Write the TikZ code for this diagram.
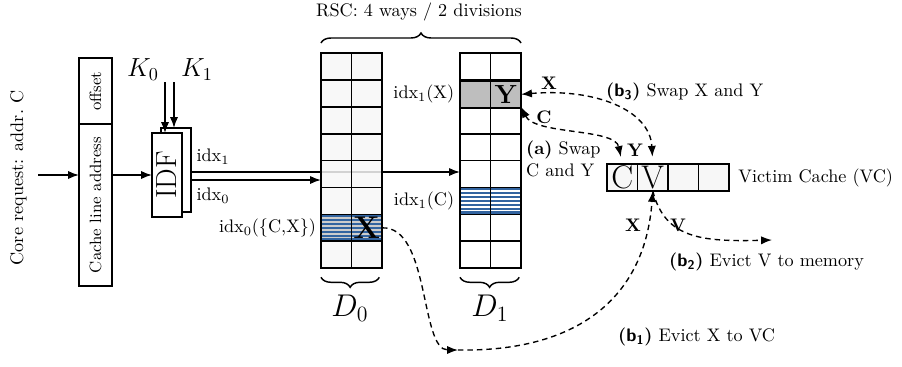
\documentclass[tikz,border=0pt]{standalone}
\usetikzlibrary{arrows.meta,decorations.pathreplacing,calc}
\pgfdeclarelayer{bg}
\pgfsetlayers{bg,main}
\definecolor{stripeblue}{RGB}{50,100,160}
\definecolor{cellgray}{RGB}{247,247,247}
\definecolor{ygray}{RGB}{190,190,190}
\newcommand{\tagb}[1]{\textbf{(\textsf{b}\textsubscript{\textsf{#1}})}}
\begin{document}
\begin{tikzpicture}[x=0.55pt,y=-0.55pt,
  >={Latex[length=6pt,width=4.5pt]},
  cell/.style={draw, line width=0.9pt, minimum width=16.8pt, minimum height=14.8pt, inner sep=0pt, outer sep=0pt},
  box/.style={draw, line width=0.8pt, inner sep=0pt, outer sep=0pt},
  conn/.style={line width=0.8pt},
  flow/.style={line width=0.75pt, dash pattern=on 3pt off 2.2pt},
  tagl/.style={font=\bfseries, inner sep=1pt},
  txt/.style={inner sep=1pt},
  stripes/.style={path picture={
     \fill[stripeblue] (path picture bounding box.south west) rectangle (path picture bounding box.north east);
     \foreach \k in {1,...,6}{
       \draw[#1, line width=1pt] ($(path picture bounding box.north west)!{\k/7}!(path picture bounding box.south west)$) -- ($(path picture bounding box.north east)!{\k/7}!(path picture bounding box.south east)$);}
  }},
]
\useasboundingbox (0,0) rectangle (902,366);

% ---- left part ----
\node[txt, rotate=90] (core) at (18.5,178) {Core request: addr.\ C};
\coordinate (cin) at (38,175);
\node[box, minimum width=18.15pt, minimum height=36.3pt] (off) at (95.5,91) {};
\node[box, minimum width=18.15pt, minimum height=89.1pt] (cla) at (95.5,205) {};
\node[rotate=90, font=\small, inner sep=0pt] (offt) at (off) {offset};
\node[rotate=90, font=\small, inner sep=0pt] (clat) at (cla) {Cache line address};

\node[box, fill=white, minimum width=16.5pt, minimum height=46.2pt] (idfb) at (176,170) {};
\node[box, fill=white, minimum width=16.5pt, minimum height=46.2pt] (idf) at (167,175) {};
\node[rotate=90, font=\fontsize{16}{18}\selectfont, inner sep=0pt] (idft) at (idf) {IDF};

\node[font=\Large, inner sep=0pt] (k0) at (143,70) {$K_0$};
\node[font=\Large, inner sep=0pt] (k1) at (197,70) {$K_1$};
\coordinate (k0s) at (165,82);
\coordinate (k1s) at (174,82);

\draw[conn,->] (cin) -- (cin -| cla.west);
\draw[conn,->] (cla.east |- cin) -- (idf.west |- cin);
\draw[conn,->] (k0s) -- (k0s |- idf.north);
\draw[conn,->] (k1s) -- (k1s |- idfb.north);

% ---- D0 ----
\foreach \r in {1,...,8}{
  \node[cell, fill=cellgray, fill opacity=0.85] (a\r1) at (336.25,{39.55+26.9*\r}) {};
  \node[cell, fill=cellgray, fill opacity=0.85] (a\r2) at (366.75,{39.55+26.9*\r}) {};
}
\node[cell, stripes=gray!40] (a71) at (336.25,227.85) {};
\node[cell, stripes=gray!40, font=\LARGE\bfseries] (a72) at (366.75,227.85) {X};

% ---- D1 ----
\foreach \r in {1,...,8}{
  \node[cell, fill=white] (b\r1) at (475.25,{39.55+26.9*\r}) {};
  \node[cell, fill=white] (b\r2) at (505.75,{39.55+26.9*\r}) {};
}
\node[cell, fill=ygray] (b21) at (475.25,94.35) {};
\node[cell, fill=ygray, font=\Large\bfseries] (b22) at (505.75,94.35) {Y};
\node[cell, stripes=white] (b61) at (475.25,200.95) {};
\node[cell, stripes=white] (b62) at (505.75,200.95) {};

% ---- idx lines (behind D0) ----
\coordinate (i1) at (191,172);
\coordinate (i0) at (191,180);
\begin{pgfonlayer}{bg}
\draw[conn,->] (i1) -- (i1 -| b51.west);
\draw[conn,->] (i0) -- (i0 -| a51.west);
\end{pgfonlayer}
\node[txt] (lidx1) at (213,157) {idx$_1$};
\node[txt] (lidx0) at (213,196) {idx$_0$};
\node[txt, anchor=east] (lx) at ([xshift=-2pt]b21.west) {idx$_1$(X)};
\node[txt, anchor=east] (lc) at ([xshift=-2pt]b61.west) {idx$_1$(C)};
\node[txt, anchor=east] (lcx) at ([xshift=-1.5pt]a71.west) {idx$_0$(\{C,X\})};

% ---- braces ----
\draw[conn, decorate, decoration={brace, amplitude=5.5pt}] ([yshift=5.5pt]a11.north west) -- ([yshift=5.5pt]b12.north east);
\node[txt] (rsc) at (419,12) {RSC: 4 ways / 2 divisions};
\draw[conn, decorate, decoration={brace, amplitude=5.5pt}] ([yshift=-5pt,xshift=-1.5pt]a82.south east) -- ([yshift=-5pt]a81.south west);
\draw[conn, decorate, decoration={brace, amplitude=5.5pt}] ([yshift=-5pt,xshift=-1pt]b82.south east) -- ([yshift=-5pt]b81.south west);
\node[font=\LARGE, inner sep=0pt] (d0l) at (350,308) {$D_0$};
\node[font=\LARGE, inner sep=0pt] (d1l) at (490,308) {$D_1$};

% ---- victim cache ----
\node[cell, fill=cellgray, font=\fontsize{18}{20}\selectfont] (v1) at (622.25,177.5) {C};
\node[cell, fill=cellgray, font=\fontsize{18}{20}\selectfont] (v2) at (652.75,177.5) {V};
\node[cell, fill=cellgray] (v3) at (683.25,177.5) {};
\node[cell, fill=cellgray] (v4) at (713.75,177.5) {};
\node[txt, anchor=west] (vcl) at ([xshift=4pt]v4.east) {Victim Cache (VC)};

% ---- flows ----
\draw[flow,<->, shorten >=4pt] (b22.east) .. controls (595,88) and (650,110) .. (v2.north);
\draw[flow,<->, shorten >=4pt] (b32.north east) .. controls (535,135) and (615,128) .. (v1.north);
\node[tagl] (tx3) at (549,83) {X};
\node[tagl] (tc) at (544,117) {C};
\node[tagl] (ty) at (635,150) {Y};
\node[txt, anchor=west] (lb3) at (604,92) {\tagb{3} Swap X and Y};
\node[txt, anchor=north west, align=left] (la) at (524,139) {\textbf{(a)} Swap\\C and Y};

\coordinate (mid) at (458,350);
\draw[flow,->] (a72.east) .. controls (430,226) and (420,350) .. (mid);
\draw[flow,->] (mid) .. controls (575,352) and (645,300) .. (v2.south);
\node[tagl] (tx1) at (633,225) {X};
\node[txt, anchor=west] (lb1) at (616,337) {\tagb{1} Evict X to VC};

\coordinate (mem) at (772,240);
\draw[flow,->] (v2.south) .. controls (665,238) and (700,242) .. (mem);
\node[tagl] (tv) at (678,225) {V};
\node[txt, anchor=west] (lb2) at (667,262) {\tagb{2} Evict V to memory};
\end{tikzpicture}
\end{document}
